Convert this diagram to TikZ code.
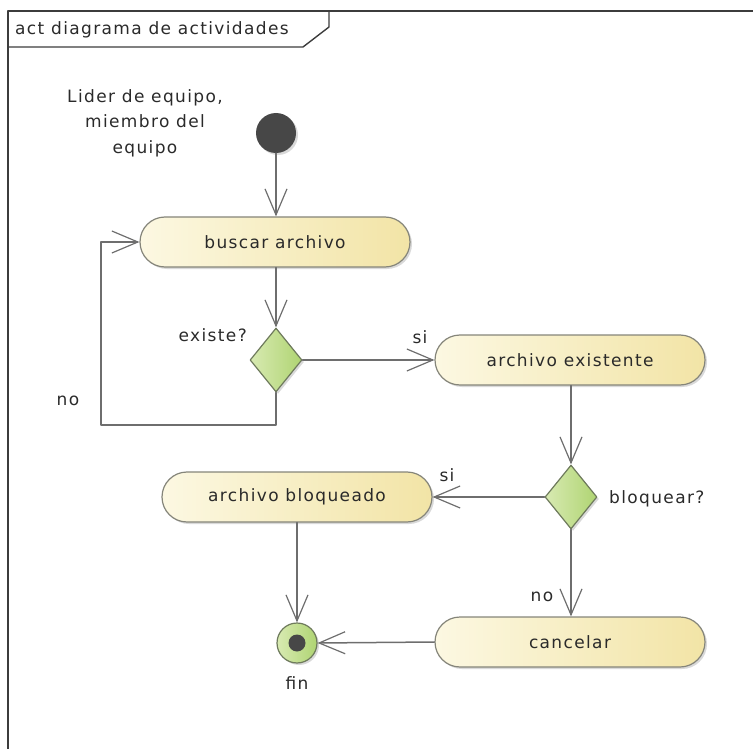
\documentclass[tikz,border=0pt]{standalone}
\usepackage{fontspec}
\setmainfont[LetterSpace=8]{DejaVu Sans}
\usepackage{tikz}
\usetikzlibrary{arrows.meta,shapes.misc,shapes.geometric,shadows}

\definecolor{lineGray}{HTML}{6E6E6E}
\definecolor{frameGray}{HTML}{3C3C3C}
\definecolor{textGray}{HTML}{2A2A2A}
\definecolor{actLeft}{HTML}{FCF8E2}
\definecolor{actRight}{HTML}{F2E4A6}
\definecolor{actBorder}{HTML}{85857A}
\definecolor{decLeft}{HTML}{D8EAB2}
\definecolor{decRight}{HTML}{AFD472}
\definecolor{decBorder}{HTML}{6E7A5C}
\definecolor{startFill}{HTML}{474747}

\begin{document}
\begin{tikzpicture}[x=1pt, y=-1pt, line cap=round, line join=round,
    font=\fontsize{17}{20}\selectfont, text=textGray,
    flow/.style={draw=lineGray, line width=1.5pt,
      -{Straight Barb[length=26pt, width=22pt, line width=1.2pt]}},
    action/.style={rounded rectangle, draw=actBorder, line width=1.2pt,
      left color=actLeft, right color=actRight,
      minimum width=270pt, minimum height=50pt, inner sep=0pt,
      drop shadow={opacity=0.3, shadow xshift=2pt, shadow yshift=-2pt}},
    decision/.style={diamond, draw=decBorder, line width=1.2pt,
      left color=decLeft, right color=decRight,
      minimum width=52pt, minimum height=64pt, inner sep=0pt,
      drop shadow={opacity=0.3, shadow xshift=2pt, shadow yshift=-2pt}},
    lbl/.style={inner sep=1pt}]

  \useasboundingbox (0,0) rectangle (753,749);

  %--- Frame and header tab ------------------------------------------------
  \draw[frameGray, line width=1.4pt] (8,749) -- (8,11) -- (753,11);
  \draw[frameGray, line width=1.4pt] (8,47) -- (303,47) -- (329,27) -- (329,11);
  \node[lbl, anchor=west] (title) at (14,30) {act diagrama de actividades};

  %--- Start node and partition label --------------------------------------
  \node[circle, fill=startFill, minimum size=40pt, inner sep=0pt,
        drop shadow={opacity=0.3, shadow xshift=2pt, shadow yshift=-2pt}]
        (start) at (276,133) {};
  \node[lbl, align=center, font=\fontsize{17}{25.5}\selectfont]
        (actor) at (145,123) {Lider de equipo,\\miembro del\\equipo};

  %--- Actions ---------------------------------------------------------------
  \node[action] (buscar)     at (275,242) {buscar archivo};
  \node[action] (existente)  at (570,360) {archivo existente};
  \node[action] (bloqueado)  at (297,497) {archivo bloqueado};
  \node[action] (cancelar)   at (570,642) {cancelar};

  %--- Decisions -------------------------------------------------------------
  \node[decision] (existe)   at (276,360) {};
  \node[decision] (bloquear) at (571,497) {};

  %--- Final node ------------------------------------------------------------
  \node[circle, draw=decBorder, line width=1.2pt, left color=decLeft,
        right color=decRight, minimum size=40pt, inner sep=0pt,
        drop shadow={opacity=0.3, shadow xshift=2pt, shadow yshift=-2pt}]
        (fin) at (297,643) {};
  \node[circle, fill=startFill, minimum size=17pt, inner sep=0pt]
        (finDot) at (fin) {};

  %--- Loop corner -----------------------------------------------------------
  \coordinate (loopB) at (101,425);

  %--- Control flows ---------------------------------------------------------
  \draw[flow] (start.south) -- (start.south |- buscar.north);
  \draw[flow] (buscar.south -| existe.north) -- (existe.north);
  \draw[flow] (existe.east) -- (existente.west);
  \draw[flow] (existe.south) |- (loopB) |- (buscar.west);
  \draw[flow] (existente.south -| bloquear.north) -- (bloquear.north);
  \draw[flow] (bloquear.west) -- (bloqueado.east);
  \draw[flow] (bloquear.south) -- (bloquear.south |- cancelar.north);
  \draw[flow] (bloqueado.south -| fin.north) -- (fin.north);
  \draw[flow] (cancelar.west) -- (fin.east);

  %--- Guard and node labels -------------------------------------------------
  \node[lbl, anchor=east] (existeLbl)   at (248,335) {existe?};
  \node[lbl]              (siExiste)    at (420,337) {si};
  \node[lbl]              (noExiste)    at (68,401)  {no};
  \node[lbl, anchor=west] (bloquearLbl) at (608,499) {bloquear?};
  \node[lbl]              (siBloquear)  at (447,475) {si};
  \node[lbl]              (noBloquear)  at (542,597) {no};
  \node[lbl]              (finLbl)      at (297,683) {fin};

\end{tikzpicture}
\end{document}
